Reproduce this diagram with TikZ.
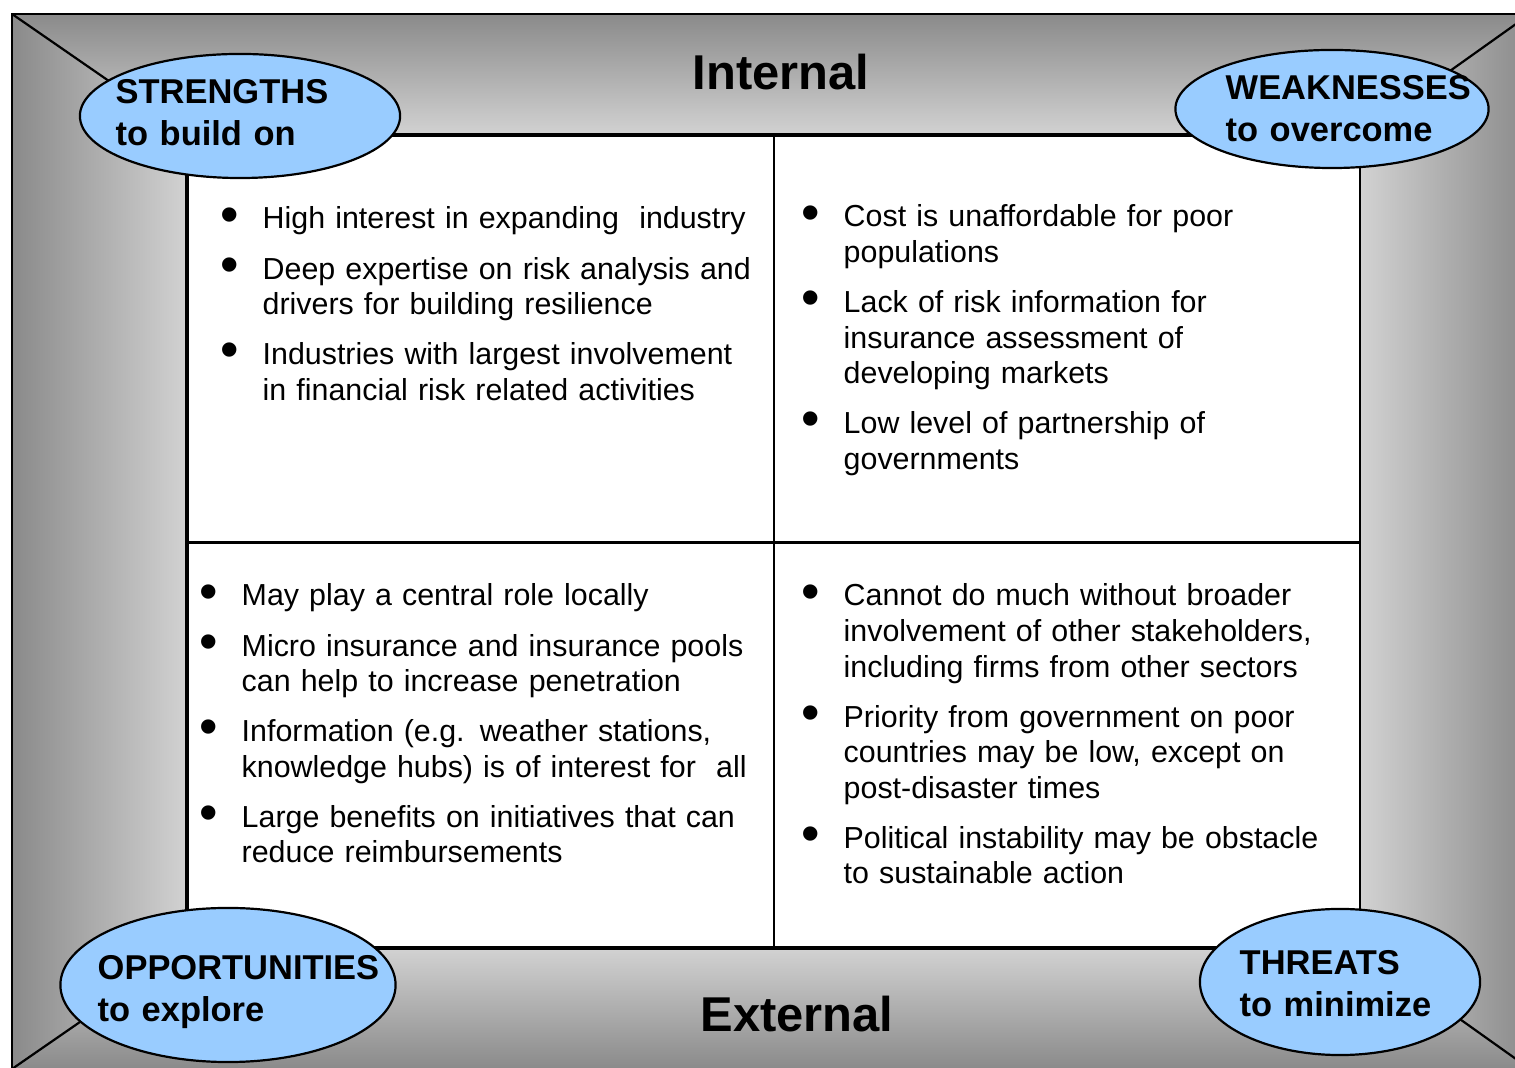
\documentclass[tikz,border=0pt]{standalone}
\usepackage{fontspec}
\setmainfont{Liberation Sans}
\usetikzlibrary{shapes.geometric}

% one bullet point with hanging indent
\newcommand{\swotitem}[1]{\noindent\hangindent=0.37cm\hangafter=1\makebox[0.37cm][l]{\hspace{-0.05cm}\raisebox{-0.9pt}{\fontsize{15}{15}\selectfont\textbullet}}#1\par}

\begin{document}
\begin{tikzpicture}[x=0.01cm, y=-0.01cm,
    bubble/.style={ellipse, draw=black, line width=0.022cm, fill=bubblecolor, inner sep=0pt},
    bubbletext/.style={anchor=base west, inner sep=0pt, text width=4cm, align=left,
        font=\fontsize{9.8}{11.9}\selectfont\bfseries},
    pointlist/.style={anchor=base west, inner sep=0pt, text width=6cm,
        font=\fontsize{8.64}{10.1}\selectfont},
    heading/.style={anchor=base, inner sep=0pt, font=\fontsize{13.9}{16}\selectfont\bfseries}]
    % Define colors
    \definecolor{framedark}{RGB}{138,138,138}
    \definecolor{framelight}{RGB}{210,210,210}
    \definecolor{bubblecolor}{RGB}{153,204,255}

    \useasboundingbox (0,0) rectangle (1515,1068);
    \clip (0,0) rectangle (1515,1068);

    % Corners of the frame
    \coordinate (onw) at (12,14);
    \coordinate (one) at (1530,14);
    \coordinate (osw) at (12,1069);
    \coordinate (ose) at (1530,1069);
    \coordinate (inw) at (187,135);
    \coordinate (ine) at (1360,135);
    \coordinate (isw) at (187,948);
    \coordinate (ise) at (1360,948);

    % Bevelled frame
    \shade[top color=framedark, bottom color=framelight] (onw) -- (one) -- (ine) -- (inw) -- cycle;
    \shade[top color=framelight, bottom color=framedark] (isw) -- (ise) -- (ose) -- (osw) -- cycle;
    \shade[left color=framedark, right color=framelight] (onw) -- (inw) -- (isw) -- (osw) -- cycle;
    \shade[left color=framelight, right color=framedark] (one) -- (ine) -- (ise) -- (ose) -- cycle;
    \draw[line width=0.022cm] (onw) -- (inw);
    \draw[line width=0.022cm] (one) -- (ine);
    \draw[line width=0.022cm] (osw) -- (isw);
    \draw[line width=0.022cm] (ose) -- (ise);
    \draw[line width=0.028cm] (onw) rectangle (ose);

    % Four quadrants
    \fill[white] (inw) rectangle (ise);
    \draw[line width=0.025cm] (inw) rectangle (ise);
    \draw[line width=0.04cm] (ine) -- (inw) -- (isw) -- (ise);
    \draw[line width=0.025cm] (774,135) -- (774,948);
    \draw[line width=0.03cm] (187,543) -- (1360,543);

    % Headings
    \node[heading] (internal) at (781,90) {Internal};
    \node[heading] (external) at (797,1032) {External};

    % Strengths
    \node[pointlist] (strlist) at (225,229) {\setlength{\parskip}{0.145cm}%
        \swotitem{High interest in expanding\ \ industry}%
        \swotitem{Deep expertise on risk analysis and\newline drivers for building resilience}%
        \swotitem{Industries with largest involvement\newline in financial risk related activities}};

    % Weaknesses
    \node[pointlist] (weaklist) at (806,227) {\setlength{\parskip}{0.145cm}%
        \swotitem{Cost is unaffordable for poor\newline populations}%
        \swotitem{Lack of risk information for\newline insurance assessment of\newline developing markets}%
        \swotitem{Low level of partnership of\newline governments}};

    % Opportunities
    \node[pointlist] (opplist) at (204,606) {\setlength{\parskip}{0.145cm}%
        \swotitem{May play a central role locally}%
        \swotitem{Micro insurance and insurance pools\newline can help to increase penetration}%
        \swotitem{Information (e.g. weather stations,\newline knowledge hubs) is of interest for\ \ all}%
        \swotitem{Large benefits on initiatives that can\newline reduce reimbursements}};

    % Threats
    \node[pointlist] (thrlist) at (806,606) {\setlength{\parskip}{0.145cm}%
        \swotitem{Cannot do much without broader\newline involvement of other stakeholders,\newline including firms from other sectors}%
        \swotitem{Priority from government on poor\newline countries may be low, except on\newline post-disaster times}%
        \swotitem{Political instability may be obstacle\newline to sustainable action}};

    % Corner bubbles
    \node[bubble, minimum width=3.2cm, minimum height=1.24cm] (str) at (240,116) {};
    \node[bubble, minimum width=3.13cm, minimum height=1.18cm] (weak) at (1332,109) {};
    \node[bubble, minimum width=3.35cm, minimum height=1.54cm] (opp) at (228,985) {};
    \node[bubble, minimum width=2.8cm, minimum height=1.46cm] (thr) at (1340,982) {};

    \node[bubbletext] (strtext) at (115,104) {STRENGTHS\\to build on};
    \node[bubbletext] (weaktext) at (1225,100) {WEAKNESSES\\to overcome};
    \node[bubbletext] (opptext) at (97,980) {OPPORTUNITIES\\to explore};
    \node[bubbletext] (thrtext) at (1239,975) {THREATS\\to minimize};
\end{tikzpicture}
\end{document}
